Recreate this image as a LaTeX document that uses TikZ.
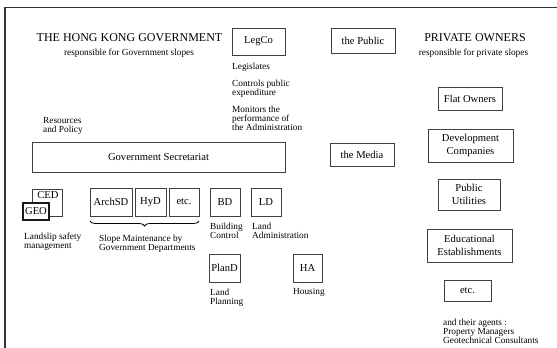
\documentclass[tikz,border=0pt]{standalone}
\usepackage{fontspec}
\setmainfont{Liberation Serif}
\usetikzlibrary{decorations.pathreplacing}
\begin{document}
\begin{tikzpicture}[x=1pt,y=-1pt,
 box/.style={draw=black!75, line width=0.7pt, inner sep=0pt, fill=white, font=\fontsize{10.6}{12.5}\selectfont, align=center},
 small/.style={inner sep=0pt, anchor=north west, align=left, font=\fontsize{9.3}{9}\selectfont},
 titletext/.style={inner sep=0pt, font=\fontsize{12}{14}\selectfont},
 subtext/.style={inner sep=0pt, font=\fontsize{9.3}{11}\selectfont}]
\useasboundingbox (0,0) rectangle (557,348);
\fill[white] (0,0) rectangle (557,348);
\draw[line width=1.3pt, black!80] (5,348) -- (5,7.5) -- (557,7.5);

% titles
\node[titletext] (hkg) at (129.5,38) {THE HONG KONG GOVERNMENT};
\node[subtext] (hkgsub) at (129,53) {responsible for Government slopes};
\node[titletext] (priv) at (475,38) {PRIVATE OWNERS};
\node[subtext] (privsub) at (473.5,53) {responsible for private slopes};

% boxes
\node[box, minimum width=53, minimum height=27] (legco) at (258.5,41.5) {LegCo};
\node[box, minimum width=64, minimum height=25] (public) at (363,40.5) {the Public};
\node[box, minimum width=253, minimum height=30] (govsec) at (158.5,157) {Government Secretariat};
\node[box, minimum width=64, minimum height=23] (media) at (362,154.5) {the Media};
\node[box, minimum width=64, minimum height=23] (flat) at (470,98.5) {Flat Owners};
\node[box, minimum width=85, minimum height=33] (dev) at (470.5,145.5) {Development\\Companies};
\node[box, minimum width=62, minimum height=31] (util) at (469,194.5) {Public\\Utilities};
\node[box, minimum width=85, minimum height=33] (edu) at (469.5,245.5) {Educational\\Establishments};
\node[box, minimum width=47, minimum height=21] (etcr) at (467.5,290.5) {etc.};

\node[box, minimum width=30, minimum height=27] (ced) at (47,202.5) {};
\node[inner sep=0pt, font=\fontsize{10.6}{12.5}\selectfont] (cedtext) at (48,195) {CED};
\node[box, line width=1.8pt, draw=black!90, minimum width=26, minimum height=17] (geo) at (36,211.5) {GEO};

\node[box, minimum width=42, minimum height=28] (archsd) at (111,202) {ArchSD};
\node[box, minimum width=31, minimum height=28] (hyd) at (150.5,202) {HyD};
\node[box, minimum width=30, minimum height=28] (etcl) at (184,202) {etc.};
\node[box, minimum width=30, minimum height=28] (bd) at (225,202) {BD};
\node[box, minimum width=30, minimum height=28] (ld) at (266,202) {LD};
\node[box, minimum width=31, minimum height=28] (pland) at (224.5,268) {PlanD};
\node[box, minimum width=29, minimum height=28] (ha) at (307.5,268) {HA};

% brace
\coordinate (bl) at (90,221);
\coordinate (br) at (199,221);
\draw[line width=0.8pt, decorate, decoration={brace, mirror, amplitude=5pt}] (bl) -- (br);

% small texts
\node[small] (leg) at (232,62.6) {Legislates};
\node[small] (ctrl) at (232,79.6) {Controls public\\expenditure};
\node[small] (mon) at (232,105.6) {Monitors the\\performance of\\the Administration};
\node[small] (res) at (43,117.6) {Resources\\and Policy};
\node[small] (land) at (24,232.6) {Landslip safety\\management};
\node[small] (slope) at (99,234.6) {Slope Maintenance by\\Government Departments};
\node[small] (bc) at (210,222.6) {Building\\Control};
\node[small] (la) at (252,222.6) {Land\\Administration};
\node[small] (lp) at (210,288.6) {Land\\Planning};
\node[small] (hous) at (293,288.6) {Housing};
\node[small] (agents) at (443,318.6) {and their agents :\\Property Managers\\Geotechnical Consultants};
\end{tikzpicture}
\end{document}
